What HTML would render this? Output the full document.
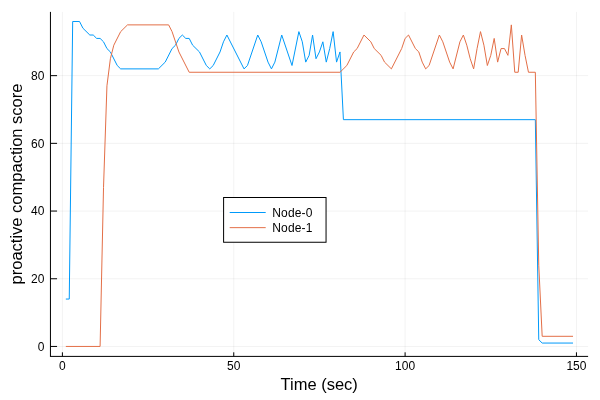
<!DOCTYPE html>
<html lang="en">
<head>
<meta charset="utf-8">
<title>proactive compaction score</title>
<style>
html,body{margin:0;padding:0;background:#fff;}
body{width:600px;height:400px;overflow:hidden;}
svg{display:block;}
text{font-family:"Liberation Sans",sans-serif;fill:#000;}
.tick{font-size:12px;}
.guide{font-size:16.5px;}
.leg{font-size:12px;letter-spacing:0.18px;}
</style>
</head>
<body>
<svg width="600" height="400" viewBox="0 0 600 400">
<rect x="0" y="0" width="600" height="400" fill="#ffffff"/>
<g stroke="#000000" stroke-opacity="0.1" stroke-width="0.5" fill="none">
<line x1="62.40" y1="11.90" x2="62.40" y2="356.40"/>
<line x1="233.75" y1="11.90" x2="233.75" y2="356.40"/>
<line x1="405.10" y1="11.90" x2="405.10" y2="356.40"/>
<line x1="576.45" y1="11.90" x2="576.45" y2="356.40"/>
<line x1="50.45" y1="346.45" x2="588.10" y2="346.45"/>
<line x1="50.45" y1="278.75" x2="588.10" y2="278.75"/>
<line x1="50.45" y1="211.05" x2="588.10" y2="211.05"/>
<line x1="50.45" y1="143.35" x2="588.10" y2="143.35"/>
<line x1="50.45" y1="75.65" x2="588.10" y2="75.65"/>
</g>
<polyline points="65.83,299.06 69.25,299.06 72.68,21.49 79.53,21.49 82.96,28.26 89.82,35.03 93.24,35.03 96.67,38.42 100.10,38.42 103.52,41.80 106.95,48.57 110.38,51.95 117.23,65.50 120.66,68.88 158.36,68.88 165.21,62.11 172.06,48.57 175.49,45.19 178.92,38.42 182.34,35.03 185.77,38.42 189.20,38.42 192.63,45.19 199.48,51.95 206.33,65.50 209.76,68.88 213.19,65.50 220.04,51.95 223.47,41.80 226.90,35.03 244.03,68.88 247.46,65.50 257.74,35.03 261.17,41.80 268.02,62.11 271.45,68.88 274.87,62.11 281.73,35.03 292.01,65.50 298.86,31.64 302.29,41.80 305.72,62.11 309.14,55.34 312.57,35.03 316.00,58.73 319.42,51.95 322.85,41.80 326.28,62.11 329.71,48.57 333.13,31.64 336.56,62.11 339.99,51.95 343.41,119.66 535.33,119.66 538.75,339.68 542.18,343.06 573.02,343.06" fill="none" stroke="#009AFA" stroke-width="1" stroke-linejoin="miter" stroke-miterlimit="10" stroke-linecap="butt"/>
<polyline points="65.83,346.45 100.10,346.45 103.52,187.35 106.95,85.81 110.38,58.73 113.81,45.19 120.66,31.64 127.51,24.88 168.64,24.88 172.06,31.64 178.92,51.95 189.20,72.26 339.99,72.26 346.84,65.50 353.69,51.95 357.12,48.57 363.98,35.03 370.83,41.80 374.26,48.57 381.11,55.34 384.54,62.11 391.39,68.88 401.67,48.57 405.10,38.42 408.53,35.03 415.38,48.57 418.81,51.95 422.23,62.11 425.66,68.88 429.09,65.50 439.37,35.03 442.80,41.80 449.65,62.11 453.08,68.88 459.93,41.80 463.36,35.03 466.79,45.19 470.21,58.73 473.64,68.88 477.07,48.57 480.49,31.64 483.92,45.19 487.35,65.50 490.77,55.34 494.20,38.42 497.63,62.11 501.06,48.57 504.48,48.57 507.91,55.34 511.34,24.88 514.76,72.26 518.19,72.26 521.62,35.03 525.04,55.34 528.47,72.26 535.33,72.26 538.75,265.21 542.18,336.30 573.02,336.30" fill="none" stroke="#E36F47" stroke-width="1" stroke-linejoin="miter" stroke-miterlimit="10" stroke-linecap="butt"/>
<g stroke="#000" stroke-width="1" fill="none" stroke-linecap="butt">
<line x1="50.45" y1="356.40" x2="588.10" y2="356.40"/>
<line x1="50.45" y1="11.90" x2="50.45" y2="356.90"/>
<line x1="62.40" y1="356.40" x2="62.40" y2="352.30"/>
<line x1="233.75" y1="356.40" x2="233.75" y2="352.30"/>
<line x1="405.10" y1="356.40" x2="405.10" y2="352.30"/>
<line x1="576.45" y1="356.40" x2="576.45" y2="352.30"/>
<line x1="50.45" y1="346.45" x2="57.05" y2="346.45"/>
<line x1="50.45" y1="278.75" x2="57.05" y2="278.75"/>
<line x1="50.45" y1="211.05" x2="57.05" y2="211.05"/>
<line x1="50.45" y1="143.35" x2="57.05" y2="143.35"/>
<line x1="50.45" y1="75.65" x2="57.05" y2="75.65"/>
</g>
<text class="tick" x="62.40" y="369.75" text-anchor="middle">0</text>
<text class="tick" x="233.75" y="369.75" text-anchor="middle">50</text>
<text class="tick" x="405.10" y="369.75" text-anchor="middle">100</text>
<text class="tick" x="576.45" y="369.75" text-anchor="middle">150</text>
<text class="tick" x="44.40" y="350.65" text-anchor="end">0</text>
<text class="tick" x="44.40" y="282.95" text-anchor="end">20</text>
<text class="tick" x="44.40" y="215.25" text-anchor="end">40</text>
<text class="tick" x="44.40" y="147.55" text-anchor="end">60</text>
<text class="tick" x="44.40" y="79.85" text-anchor="end">80</text>
<text class="guide" x="319.20" y="389.60" text-anchor="middle">Time (sec)</text>
<text class="guide" transform="translate(22.00,184.00) rotate(-90)" text-anchor="middle">proactive compaction score</text>
<rect x="223.60" y="197.50" width="102.45" height="44.75" fill="#ffffff" stroke="#000" stroke-width="1"/>
<line x1="229.70" y1="212.50" x2="265.70" y2="212.50" stroke="#009AFA" stroke-width="1"/>
<line x1="229.70" y1="227.65" x2="265.70" y2="227.65" stroke="#E36F47" stroke-width="1"/>
<text class="leg" x="272.20" y="216.50">Node-0</text>
<text class="leg" x="272.20" y="231.70">Node-1</text>
</svg>
</body>
</html>
